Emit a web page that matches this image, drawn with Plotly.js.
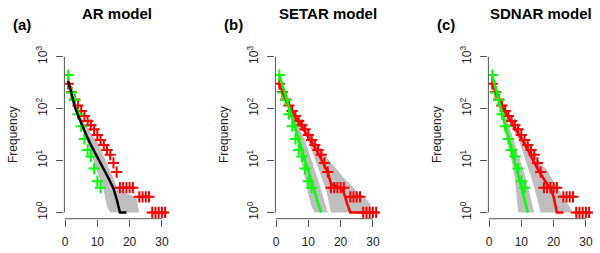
<!DOCTYPE html>
<html>
<head>
<meta charset="utf-8">
<script src="https://cdn.plot.ly/plotly-3.0.1.min.js"></script>
<style>html,body{margin:0;padding:0;background:#fff;}#chart{width:600px;height:253px;}</style>
</head>
<body>
<div id="chart"></div>
<script>
// ---------- tick labels ----------
const xTicks = [0, 10, 20, 30];
const yTicks = [1, 10, 100, 1000];
const yTickText = ['10<sup>0</sup>', '10<sup>1</sup>', '10<sup>2</sup>', '10<sup>3</sup>'];
const panelTitles = ['AR model', 'SETAR model', 'SDNAR model'];
const panelLetters = ['(a)', '(b)', '(c)'];
const yLabel = 'Frequency';

// ---------- observed data (same in every panel) ----------
const obsRedX = [1,2,3,4,5,6,7,8,9,10,11,12,13,14,15,16,17,18,19,20,21,23,24,25,26,27,28,29,30,31];
const obsRedY = [300,210,150,115,90,72,58,48,40,31,25,20,16,13,9,6,3,3,3,3,3,2,2,2,2,1,1,1,1,1];
const obsGreenX = [1,2,3,4,5,6,7,8,9,10,11];
const obsGreenY = [445,205,146,78,46,26,16,12,7,4,3];

// ---------- (a) AR model ----------
const arLineX = [1,2,3,4,5,6,7,8,9,10,11,12,13,14,15,16,17,18,19];
const arLineY = [340,190,110,75,52,38,27,20,15.5,12,9,6.8,5.2,3.8,2.9,1.8,1,1,1];
const arUpX = [1,2,3,4,5,6,7,8,9,10,11,12,13,14,15,16,17,18,19,20,21,22,23];
const arUpY = [370,215,135,95,70,53,42,34,28,23,17,12,8.5,6,4.3,3.2,2.7,2.5,2.3,2.2,2.1,2.0,1];
const arLoX = [1,2,3,4,5,6,7,8,9,10,11,12,13,14];
const arLoY = [320,175,100,68,46,32,21,13,8.5,6,4,2.6,1.3,1];

// ---------- (b) SETAR model ----------
const setRedLineX = [1,2,3,4,5,6,7,8,9,10,11,12,13,14,15,16,17,18,19,20,21,22,23,24,25,26,27,28];
const setRedLineY = [300,205,150,115,88,70,56,45,36,29,23,18,14,10.5,8,6,3.6,3.3,3.1,2.9,2.4,1.5,1,1,1,1,1,1];
const setGreenLineX = [1,2,3,4,5,6,7,8,9,10,11,12,13,14];
const setGreenLineY = [440,280,175,110,68,42,26,16.5,10.5,6.5,4,2.5,1.5,1];
const setRedUpX = [1,2,3,4,5,6,7,8,9,10,11,12,13,14,15,16,17,18,19,20,21,22,23,24,25,26,27,28,29,30];
const setRedUpY = [320,225,165,130,100,82,68,56,46,38,31,25,21,17,13.5,11,9,7.8,6.5,5.5,4.6,4,3.4,3,2.6,2.3,2,1.8,1.5,1];
const setRedLoX = [1,2,3,4,5,6,7,8,9,10,11,12,13,14,15,16,17];
const setRedLoY = [270,190,140,105,80,62,48,40,32,23,16,11,7.5,5,3.3,2,1];
const setGreenUpX = [1,2,3,4,5,6,7,8,9,10,11,12,13,14,15,16];
const setGreenUpY = [470,320,210,140,95,65,45,33,24,16,10.5,6.8,4.3,2.7,1.7,1];
const setGreenLoX = [1,2,3,4,5,6,7,8,9,10,11,12];
const setGreenLoY = [400,250,150,90,52,30,17,9,4.5,2.2,1.3,1];

// ---------- (c) SDNAR model ----------
const sdRedLineX = [1,2,3,4,5,6,7,8,9,10,11,12,13,14,15,16,17,18,19,20,21,22,23];
const sdRedLineY = [290,200,150,112,86,68,54,43,34,27,21,16,12,9,7,5.5,4.3,3.5,2.9,2,1,1,1];
const sdGreenLineX = [1,2,3,4,5,6,7,8,9,10,11,12];
const sdGreenLineY = [430,260,150,85,48,27,15,9,5.3,3.2,1.9,1];
const sdRedUpX = [1,2,3,4,5,6,7,8,9,10,11,12,13,14,15,16,17,18,19,20,21,22,23,24,25,26];
const sdRedUpY = [320,220,165,125,97,77,62,50,40,32,26,21,17,13.5,11,9,7.5,6.5,5,3.9,3.1,2.5,2,1.6,1.3,1];
const sdRedLoX = [1,2,3,4,5,6,7,8,9,10,11,12,13,14,15,16];
const sdRedLoY = [270,185,135,100,75,57,44,34,26,18,12,7.5,4.8,3,1.8,1];
const sdGreenUpX = [1,2,3,4,5,6,7,8,9,10,11,12,13,14];
const sdGreenUpY = [480,310,195,125,80,52,34,22,14.5,9,5.5,3.2,1.8,1];
const sdGreenLoX = [1,2,3,4,5,6,7,8,9];
const sdGreenLoY = [390,225,125,68,36,19,10,4.5,1];

// ---------- styling ----------
const RED = '#FF0000', GREEN = '#00FF00', GRAY = '#BEBEBE', AXC = '#555555';
const FONT = 'Liberation Sans, Arial, sans-serif';
const W = 600, H = 253;
const xDomPx = [[64.4, 169.0], [275.4, 380.0], [488.4, 593.0]];
const yDomPx = [50.5, 218.7];

function band(upX, upY, loX, loY, xa, ya) {
  return {x: upX.concat(loX.slice().reverse()), y: upY.concat(loY.slice().reverse()),
    xaxis: xa, yaxis: ya, mode: 'lines', fill: 'toself', fillcolor: GRAY,
    line: {width: 0, color: GRAY}, hoverinfo: 'skip'};
}
function pts(x, y, color, xa, ya) {
  return {x: x, y: y, xaxis: xa, yaxis: ya, mode: 'markers', type: 'scatter',
    marker: {symbol: 'cross-thin-open', size: 8, color: color, line: {width: 2, color: color}}};
}
function line(x, y, color, xa, ya) {
  return {x: x, y: y, xaxis: xa, yaxis: ya, mode: 'lines', type: 'scatter',
    line: {width: 2.5, color: color}};
}

const traces = [
  band(arUpX, arUpY, arLoX, arLoY, 'x', 'y'),
  pts(obsRedX, obsRedY, RED, 'x', 'y'),
  pts(obsGreenX, obsGreenY, GREEN, 'x', 'y'),
  line(arLineX, arLineY, '#000000', 'x', 'y'),

  band(setRedUpX, setRedUpY, setRedLoX, setRedLoY, 'x2', 'y2'),
  band(setGreenUpX, setGreenUpY, setGreenLoX, setGreenLoY, 'x2', 'y2'),
  pts(obsRedX, obsRedY, RED, 'x2', 'y2'),
  pts(obsGreenX, obsGreenY, GREEN, 'x2', 'y2'),
  line(setRedLineX, setRedLineY, RED, 'x2', 'y2'),
  line(setGreenLineX, setGreenLineY, GREEN, 'x2', 'y2'),

  band(sdRedUpX, sdRedUpY, sdRedLoX, sdRedLoY, 'x3', 'y3'),
  band(sdGreenUpX, sdGreenUpY, sdGreenLoX, sdGreenLoY, 'x3', 'y3'),
  pts(obsRedX, obsRedY, RED, 'x3', 'y3'),
  pts(obsGreenX, obsGreenY, GREEN, 'x3', 'y3'),
  line(sdRedLineX, sdRedLineY, RED, 'x3', 'y3'),
  line(sdGreenLineX, sdGreenLineY, GREEN, 'x3', 'y3')
];

const layout = {
  width: W, height: H, margin: {l: 0, r: 0, t: 0, b: 0},
  paper_bgcolor: '#fff', plot_bgcolor: '#fff', showlegend: false,
  font: {family: FONT, size: 12, color: '#222'},
  shapes: [], annotations: []
};

const yDom = [1 - yDomPx[1] / H, 1 - yDomPx[0] / H];
const logRange = [-0.12, 3.12];
// paper-fraction position of a y value on the log axes
function yPaper(v) {
  const f = (Math.log10(v) - logRange[0]) / (logRange[1] - logRange[0]);
  return yDom[0] + f * (yDom[1] - yDom[0]);
}
for (let i = 0; i < 3; i++) {
  const s = i === 0 ? '' : String(i + 1);
  const xd = [xDomPx[i][0] / W, xDomPx[i][1] / W];
  layout['xaxis' + s] = {
    domain: xd, anchor: 'y' + s,
    range: [-0.2, 32.2], tickvals: xTicks, ticktext: xTicks.map(String),
    ticks: 'outside', ticklen: 7, tickwidth: 1, tickcolor: AXC,
    showgrid: false, zeroline: false, showline: false, ticklabelstandoff: 5,
    tickfont: {family: FONT, size: 12, color: '#222'}
  };
  layout['yaxis' + s] = {
    domain: yDom, anchor: 'x' + s, type: 'log',
    range: logRange, tickvals: yTicks, ticktext: yTickText, tickangle: -90,
    ticks: 'outside', ticklen: 7, tickwidth: 1, tickcolor: AXC,
    showgrid: false, zeroline: false, showline: false, ticklabelstandoff: 5,
    tickfont: {family: FONT, size: 12, color: '#222'}
  };
  // R-style axis lines spanning first to last tick
  layout.shapes.push({type: 'line', xref: 'x' + s, yref: 'paper',
    x0: xTicks[0], x1: xTicks[xTicks.length - 1], y0: yDom[0], y1: yDom[0], line: {color: AXC, width: 1}});
  layout.shapes.push({type: 'line', xref: 'paper', yref: 'paper',
    x0: xd[0], x1: xd[0], y0: yPaper(yTicks[0]), y1: yPaper(yTicks[yTicks.length - 1]), line: {color: AXC, width: 1}});
  // titles
  layout.annotations.push({text: '<b>' + panelTitles[i] + '</b>', xref: 'paper', x: (xd[0] + xd[1]) / 2,
    yref: 'paper', y: 1 - 13 / H, xanchor: 'center', yanchor: 'middle', showarrow: false,
    font: {family: FONT, size: 15, color: '#000'}});
  layout.annotations.push({text: '<b>' + panelLetters[i] + '</b>', xref: 'paper', x: xd[0],
    xshift: -42, yref: 'paper', y: 1 - 24 / H, xanchor: 'center', yanchor: 'middle', showarrow: false,
    font: {family: FONT, size: 15, color: '#000'}});
  layout.annotations.push({text: yLabel, xref: 'paper', x: xd[0], xshift: -52,
    yref: 'paper', y: (yDom[0] + yDom[1]) / 2, xanchor: 'center', yanchor: 'middle', textangle: -90,
    showarrow: false, font: {family: FONT, size: 12, color: '#222'}});
}

Plotly.newPlot('chart', traces, layout, {staticPlot: true, displayModeBar: false});
</script>
</body>
</html>
